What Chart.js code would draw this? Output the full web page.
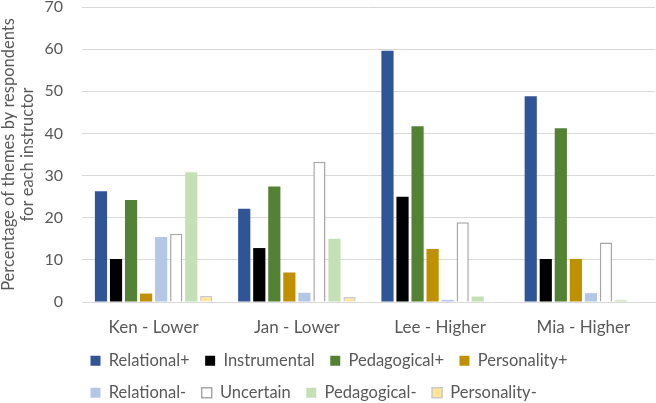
<!DOCTYPE html>
<html>
<head>
<meta charset="utf-8">
<script src="https://cdn.jsdelivr.net/npm/chart.js@4"></script>
<style>
  html, body { margin: 0; padding: 0; background: #fff; }
  #wrap { width: 656px; height: 403px; }
</style>
</head>
<body>
<div id="wrap"><canvas id="chart"></canvas></div>
<script>
const instructors = ["Ken - Lower", "Jan - Lower", "Lee - Higher", "Mia - Higher"];
const yTicks = [0, 10, 20, 30, 40, 50, 60, 70];

const relationalPlus = [26.3, 22.1, 59.6, 48.8];
const instrumental = [10.2, 12.8, 25.0, 10.2];
const pedagogicalPlus = [24.2, 27.4, 41.7, 41.2];
const personalityPlus = [2.0, 7.0, 12.6, 10.2];
const relationalMinus = [15.4, 2.2, 0.5, 2.1];
const uncertain = [16.2, 33.3, 18.9, 14.1];
const pedagogicalMinus = [30.8, 15.0, 1.3, 0.4];
const personalityMinus = [1.4, 1.2, 0, 0];

const textColor = "#595959";
const font = "Lato, 'Open Sans', sans-serif";

function series(label, data, color, border) {
  return {
    label: label,
    data: data,
    backgroundColor: color,
    borderColor: border || color,
    borderWidth: border ? 1.5 : 0,
    barPercentage: 0.81,
    categoryPercentage: 0.84,
  };
}

// keep legend at 4 items per row, starting under the y axis
const legendRows = {
  id: "legendRows",
  afterLayout(chart) {
    const lg = chart.legend;
    if (!lg) return;
    lg.left = 75;
    lg.right = 600;
  },
};

new Chart(document.getElementById("chart").getContext("2d"), {
  type: "bar",
  data: {
    labels: instructors,
    datasets: [
      series("Relational+", relationalPlus, "#2F5597"),
      series("Instrumental", instrumental, "#000000"),
      series("Pedagogical+", pedagogicalPlus, "#548235"),
      series("Personality+", personalityPlus, "#BF9000"),
      series("Relational-", relationalMinus, "#B4C7E7"),
      series("Uncertain", uncertain, "#FFFFFF", "#A6A6A6"),
      series("Pedagogical-", pedagogicalMinus, "#C5E0B4"),
      series("Personality-", personalityMinus, "#FFE699", "#C9C9C9"),
    ],
  },
  options: {
    responsive: true,
    maintainAspectRatio: false,
    animation: false,
    layout: { padding: { top: 0, right: 1, bottom: -8, left: 0 } },
    plugins: {
      tooltip: { enabled: false },
      legend: {
        position: "bottom",
        align: "start",
        labels: {
          boxWidth: 10,
          boxHeight: 10,
          padding: 15.5,
          color: textColor,
          font: { family: font, size: 16.5 },
        },
      },
    },
    scales: {
      x: {
        grid: { display: false, drawTicks: false },
        border: { display: true, color: "#D9D9D9", width: 1 },
        ticks: { color: textColor, padding: 15, font: { family: font, size: 17 } },
        afterFit(scale) {
          scale.height = 35;
        },
      },
      y: {
        min: 0,
        max: 70,
        afterBuildTicks(axis) {
          axis.ticks = yTicks.map((v) => ({ value: v }));
        },
        grid: { color: "#D9D9D9", lineWidth: 1, drawTicks: false },
        border: { display: false },
        ticks: { color: textColor, padding: 19, font: { family: font, size: 16 } },
        title: {
          display: true,
          text: ["Percentage of themes by respondents", "for each instructor"],
          color: textColor,
          font: { family: font, size: 16.5, lineHeight: 1.1 },
          padding: { top: 0, bottom: 8 },
        },
        afterFit(scale) {
          scale.width = 82;
          scale.paddingTop = 7;
        },
      },
    },
  },
  plugins: [legendRows],
});
</script>
</body>
</html>
